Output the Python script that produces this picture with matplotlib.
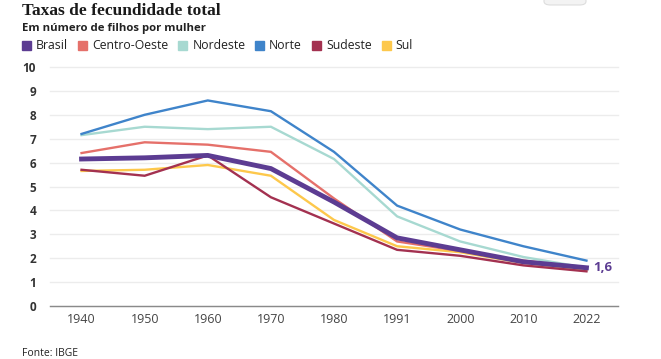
import matplotlib
matplotlib.use("Agg")
import matplotlib.pyplot as plt
from matplotlib.patches import FancyBboxPatch, Rectangle

# data
years = ['1940', '1950', '1960', '1970', '1980', '1991', '2000', '2010', '2022']
norte = [7.2, 8.0, 8.6, 8.15, 6.45, 4.2, 3.2, 2.5, 1.9]
nordeste = [7.15, 7.5, 7.4, 7.5, 6.15, 3.75, 2.7, 2.05, 1.6]
centro_oeste = [6.4, 6.85, 6.75, 6.45, 4.5, 2.7, 2.3, 1.9, 1.6]
sul = [5.65, 5.7, 5.9, 5.45, 3.6, 2.5, 2.25, 1.8, 1.5]
sudeste = [5.7, 5.45, 6.3, 4.55, 3.45, 2.35, 2.1, 1.7, 1.45]
brasil = [6.15, 6.2, 6.3, 5.75, 4.35, 2.85, 2.35, 1.85, 1.6]

series = [
    ('Brasil', brasil, '#5c3c92'),
    ('Centro-Oeste', centro_oeste, '#e5706a'),
    ('Nordeste', nordeste, '#a7d9d1'),
    ('Norte', norte, '#3f84ca'),
    ('Sudeste', sudeste, '#a33150'),
    ('Sul', sul, '#fdc84c'),
]

plt.rcParams['font.family'] = ['Open Sans', 'DejaVu Sans']

fig = plt.figure(figsize=(6.61, 3.59), dpi=100)
ax = fig.add_axes([50 / 661, 53 / 359, 568 / 661, 239 / 359])

x = list(range(len(years)))
# draw regions first, Brasil on top
order = ['Sul', 'Sudeste', 'Centro-Oeste', 'Nordeste', 'Norte', 'Brasil']
lookup = {name: (vals, col) for name, vals, col in series}
for name in order:
    vals, col = lookup[name]
    lw = 3.5 if name == 'Brasil' else 1.7
    ax.plot(x, vals, color=col, lw=lw, solid_joinstyle='miter', zorder=3 if name == 'Brasil' else 2)

ax.text(x[-1] + 0.1, brasil[-1], '1,6', color='#5c3c92', fontsize=9.5,
        fontweight='bold', va='center', ha='left')

ax.set_xlim(-0.5, 8.5)
ax.set_ylim(0, 10)
ax.set_yticks(range(0, 11))
ax.set_xticks(x)
ax.set_xticklabels(years)
ax.grid(axis='y', color='#ececec', lw=1)
ax.set_axisbelow(True)
for s in ['top', 'right', 'left']:
    ax.spines[s].set_visible(False)
ax.spines['bottom'].set_color('#8a8a8a')
ax.spines['bottom'].set_linewidth(1)
ax.tick_params(axis='both', length=0, colors='#333333')
ax.tick_params(axis='x', pad=5, labelsize=9, colors='#444444')
ax.tick_params(axis='y', pad=10, labelsize=8.5)
for lbl in ax.get_yticklabels():
    lbl.set_fontweight('bold')
for gl in ax.get_ygridlines():
    gl.set_clip_on(False)

# header
fig.text(22 / 661, 1 - 11 / 359, 'Taxas de fecundidade total', family='Liberation Serif',
         fontweight='bold', fontsize=12.5, va='center', ha='left', color='#1a1a1a')
fig.text(22 / 661, 1 - 29 / 359, 'Em número de filhos por mulher', fontsize=8.2,
         fontweight='bold', va='center', ha='left', color='#222222')

# legend row
xpos = 22
for name, vals, col in series:
    fig.patches.append(Rectangle((xpos / 661, 1 - 50 / 359), 9 / 661, 9 / 359,
                                 transform=fig.transFigure, color=col))
    t = fig.text((xpos + 14) / 661, 1 - 45.5 / 359, name, fontsize=8.8, va='center',
                 ha='left', color='#222222')
    fig.canvas.draw()
    w = t.get_window_extent().width
    xpos = xpos + 14 + w + 10

fig.text(22 / 661, 1 - 354 / 359, 'Fonte: IBGE', fontsize=7.5, va='center', ha='left',
         color='#222222')

# cropped button at top right
fig.patches.append(FancyBboxPatch((544 / 661, 1 - 5 / 359), 42 / 661, 12 / 359,
                                  boxstyle='round,pad=0,rounding_size=0.01',
                                  transform=fig.transFigure, facecolor='#f3f3f3',
                                  edgecolor='#dddddd', lw=0.8))

fig.savefig('out.png', dpi=100)
